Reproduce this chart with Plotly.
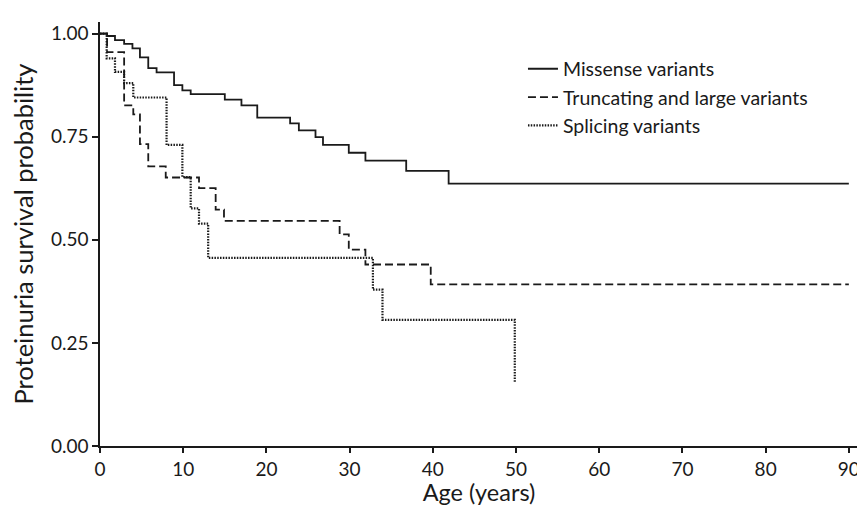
import plotly.graph_objects as go

# Kaplan-Meier step data (age in years, survival probability)
missense_age = [0, 0.85, 1.8, 2.9, 3.9, 4.8, 5.8, 6.8, 8.9, 9.9, 10.9, 15.0, 17.0, 18.9,
                22.85, 23.9, 25.9, 26.8, 29.9, 31.9, 36.8, 41.9, 90]
missense_surv = [1.0, 0.994, 0.984, 0.975, 0.964, 0.942, 0.916, 0.906, 0.875, 0.862, 0.853,
                 0.840, 0.826, 0.796, 0.782, 0.765, 0.749, 0.730, 0.711, 0.692, 0.667, 0.636, 0.636]

trunc_age = [0, 0.85, 2.9, 4.0, 4.8, 5.8, 7.9, 11.9, 13.9, 14.9, 28.8, 29.9, 31.9, 39.75, 90]
trunc_surv = [1.0, 0.955, 0.826, 0.804, 0.732, 0.678, 0.651, 0.625, 0.573, 0.546, 0.513,
              0.476, 0.440, 0.392, 0.392]

splice_age = [0, 0.8, 1.8, 2.9, 4.0, 8.0, 9.9, 10.9, 11.9, 13.0, 32.8, 33.95, 49.85]
splice_surv = [1.0, 0.94, 0.907, 0.88, 0.845, 0.73, 0.652, 0.576, 0.539, 0.456, 0.379, 0.306, 0.155]

series_names = ["Missense variants", "Truncating and large variants", "Splicing variants"]

x_ticks = [0, 10, 20, 30, 40, 50, 60, 70, 80, 90]
y_ticks = [0, 0.25, 0.5, 0.75, 1.0]
y_tick_labels = ["0.00", "0.25", "0.50", "0.75", "1.00"]

FONT = "Lato, Carlito, 'Open Sans', sans-serif"
INK = "#1a1a1a"

fig = go.Figure()
fig.add_trace(go.Scatter(x=missense_age, y=missense_surv, mode="lines", line_shape="hv",
                         name=series_names[0], legendgroup="a",
                         line=dict(color=INK, width=1.8, dash="solid")))
fig.add_trace(go.Scatter(x=trunc_age, y=trunc_surv, mode="lines", line_shape="hv",
                         name=series_names[1], legendgroup="b",
                         line=dict(color=INK, width=1.8, dash="8px,4px")))
fig.add_trace(go.Scatter(x=splice_age, y=splice_surv, mode="lines", line_shape="hv",
                         name=series_names[2], legendgroup="c",
                         line=dict(color=INK, width=2.2, dash="1.5px,1.3px")))

# page body adds an ~8px offset, so the figure is sized to fit the 865x506 window
fig.update_layout(
    width=857, height=498,
    margin=dict(l=92, r=5, t=14, b=60),
    paper_bgcolor="white", plot_bgcolor="white",
    font=dict(family=FONT, color=INK, size=19),
    showlegend=True,
    legend=dict(x=0.558, y=0.935, xanchor="left", yanchor="top",
                bgcolor="rgba(0,0,0,0)", font=dict(size=19.5, family=FONT, color=INK),
                tracegroupgap=0, traceorder="grouped"),
    xaxis=dict(range=[0, 91.1], tickvals=x_ticks, ticks="outside", ticklen=5, tickwidth=1.5,
               tickcolor=INK, showline=True, linecolor=INK, linewidth=1.5, showgrid=False,
               zeroline=False, tickfont=dict(size=19),
               title=dict(text="Age (years)", font=dict(size=23.5), standoff=2)),
    yaxis=dict(range=[0, 1.028], tickvals=y_ticks, ticktext=y_tick_labels, ticks="outside",
               ticklen=6, tickwidth=1.5, tickcolor=INK, showline=True, linecolor=INK,
               linewidth=1.5, showgrid=False, zeroline=False, tickfont=dict(size=19),
               title=dict(text="Proteinuria survival probability", font=dict(size=25.5), standoff=12)),
)

fig.write_html("out.html")
